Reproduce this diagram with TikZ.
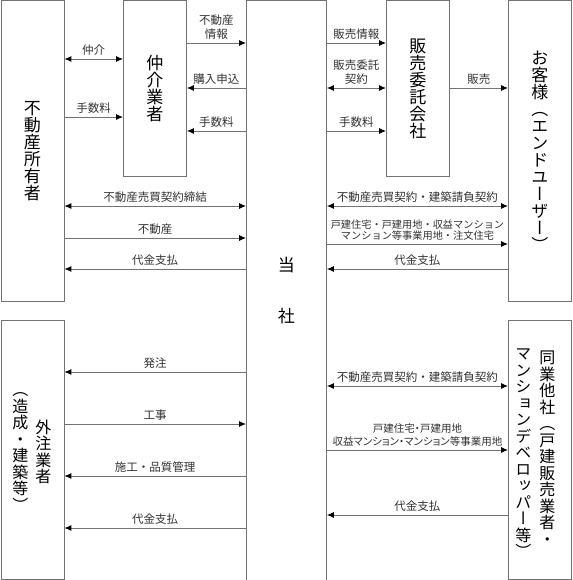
\documentclass[tikz,border=0pt]{standalone}
\usepackage{fontspec}
\usepackage{tikz}
\usetikzlibrary{arrows.meta,positioning}
\newfontfamily\jplabel{Noto Sans CJK JP}
\newfontfamily\jpnarrow[RawFeature=+palt]{Noto Sans CJK JP}
\newfontfamily\jpvert[RawFeature=+vert]{Noto Sans CJK JP}
\definecolor{edge}{RGB}{115,115,115}
\definecolor{ink}{RGB}{50,50,50}
\tikzstyle{party} = [
    rectangle,
    draw=edge,
    line width=0.9pt,
    anchor=north west,
    inner sep=0pt,
    align=center,
    font=\jpvert\fontsize{17}{17}\selectfont
]
\tikzstyle{vcol} = [
    inner sep=0pt,
    align=center,
    font=\jpvert\fontsize{16}{16.5}\selectfont
]
\tikzstyle{flow} = [
    draw=edge,
    line width=0.9pt,
    >={Latex[length=7pt,width=6pt,color=black]},
    ->
]
\tikzstyle{mutual} = [flow, <->]
\tikzstyle{tag} = [
    midway,
    above=3pt,
    inner sep=0pt,
    align=center,
    text=ink,
    font=\jplabel\fontsize{11.5}{14}\selectfont
]
\tikzstyle{tagsmall} = [
    tag,
    font=\jplabel\fontsize{10.2}{11.5}\selectfont
]
\tikzstyle{tagnarrow} = [
    tag,
    font=\jpnarrow\fontsize{10.5}{13}\selectfont
]
\begin{document}
\begin{tikzpicture}[x=1pt, y=-1pt]
    \useasboundingbox (0,0) rectangle (572,580);

    % parties
    \node[party, minimum width=63pt, minimum height=300pt] (owner) at (0.5,0.5) {不\\動\\産\\所\\有\\者};
    \node[party, minimum width=63pt, minimum height=175pt] (broker) at (123,0.5) {仲\\介\\業\\者};
    \node[party, minimum width=80pt, minimum height=579pt] (tosha) at (246,0.5) {当\\[34pt]社};
    \node[party, minimum width=63pt, minimum height=175pt] (agent) at (386,0.5) {販\\売\\委\\託\\会\\社};
    \node[party, minimum width=63pt, minimum height=300pt] (customer) at (508,0.5) {お\\客\\様\\（\\エ\\ン\\ド\\ユ\\ー\\ザ\\ー\\）};
    \node[party, minimum width=63pt, minimum height=259pt] (subcon) at (0.5,320) {};
    \node[party, minimum width=63pt, minimum height=259pt] (peer) at (508,320) {};

    \node[vcol] (subcon-name) at ([xshift=11pt,yshift=-2pt]subcon.center) {外\\注\\業\\者};
    \node[vcol] (subcon-note) at ([xshift=-12pt,yshift=-2pt]subcon.center) {（\\造\\成\\・\\建\\築\\等\\）};
    \node[vcol, anchor=north] (peer-name) at ([xshift=7.5pt,yshift=-31pt]peer.north) {同\\業\\他\\社\\（\\戸\\建\\販\\売\\業\\者\\・};
    \node[vcol, anchor=north] (peer-note) at ([xshift=-16.5pt,yshift=-29pt]peer.north) {マ\\ン\\シ\\ョ\\ン\\デ\\ベ\\ロ\\ッ\\パ\\ー\\等\\）};

    % owner - broker - tosha
    \draw[mutual] (owner.east |- 0,59) -- (broker.west |- 0,59) node[tag] {仲介};
    \draw[flow] (owner.east |- 0,117) -- (broker.west |- 0,117) node[tag] {手数料};
    \draw[flow] (broker.east |- 0,43) -- (tosha.west |- 0,43) node[tag] {不動産\\情報};
    \draw[flow] (tosha.west |- 0,88) -- (broker.east |- 0,88) node[tag] {購入申込};
    \draw[flow] (tosha.west |- 0,131) -- (broker.east |- 0,131) node[tag] {手数料};

    % tosha - agent - customer
    \draw[flow] (tosha.east |- 0,43) -- (agent.west |- 0,43) node[tag] {販売情報};
    \draw[mutual] (tosha.east |- 0,88) -- (agent.west |- 0,88) node[tag] {販売委託\\契約};
    \draw[flow] (tosha.east |- 0,131) -- (agent.west |- 0,131) node[tag] {手数料};
    \draw[flow] (agent.east |- 0,88) -- (customer.west |- 0,88) node[tag] {販売};

    % owner - tosha
    \draw[mutual] (owner.east |- 0,206) -- (tosha.west |- 0,206) node[tag] {不動産売買契約締結};
    \draw[flow] (owner.east |- 0,238) -- (tosha.west |- 0,238) node[tag] {不動産};
    \draw[flow] (tosha.west |- 0,269) -- (owner.east |- 0,269) node[tag] {代金支払};

    % tosha - customer
    \draw[mutual] (tosha.east |- 0,206) -- (customer.west |- 0,206) node[tag] {不動産売買契約・建築請負契約};
    \draw[flow] (tosha.east |- 0,244) -- (customer.west |- 0,244) node[tagsmall] {戸建住宅・戸建用地・収益マンション\\マンション等事業用地・注文住宅};
    \draw[flow] (customer.west |- 0,269) -- (tosha.east |- 0,269) node[tag] {代金支払};

    % tosha - subcon
    \draw[flow] (tosha.west |- 0,372) -- (subcon.east |- 0,372) node[tag] {発注};
    \draw[flow] (subcon.east |- 0,424) -- (tosha.west |- 0,424) node[tag] {工事};
    \draw[flow] (tosha.west |- 0,476) -- (subcon.east |- 0,476) node[tag] {施工・品質管理};
    \draw[flow] (tosha.west |- 0,528) -- (subcon.east |- 0,528) node[tag] {代金支払};

    % tosha - peer
    \draw[mutual] (tosha.east |- 0,386) -- (peer.west |- 0,386) node[tag] {不動産売買契約・建築請負契約};
    \draw[flow] (tosha.east |- 0,450) -- (peer.west |- 0,450) node[tagnarrow] {戸建住宅・戸建用地\\収益マンション・マンション等事業用地};
    \draw[flow] (peer.west |- 0,515) -- (tosha.east |- 0,515) node[tag] {代金支払};
\end{tikzpicture}
\end{document}
